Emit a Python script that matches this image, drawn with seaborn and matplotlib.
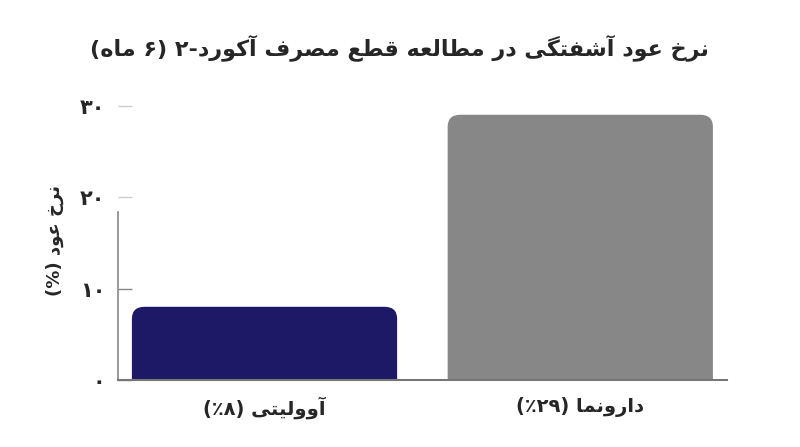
import numpy as np
import pandas as pd
import seaborn as sns
import matplotlib.pyplot as plt
from matplotlib.patches import FancyBboxPatch

# chart data
title = 'نرخ عود آشفتگی در مطالعه قطع مصرف آکورد-۲ (۶ ماه)'
y_label = 'نرخ عود (%)'
groups = ['آوولیتی (٪۸)', 'دارونما (٪۲۹)']
relapse = [8, 29]
bar_colors = ['#1e1966', '#878787']
y_ticks = [0, 10, 20, 30]
y_tick_labels = ['۰', '۱۰', '۲۰', '۳۰']

# arabic/persian presentation forms: isolated, final, initial, medial
forms = {
    'ا': '\ufe8d\ufe8e', 'آ': '\ufe81\ufe82', 'د': '\ufea9\ufeaa',
    'ر': '\ufead\ufeae', 'و': '\ufeed\ufeee',
    'ن': '\ufee5\ufee6\ufee7\ufee8', 'خ': '\ufea5\ufea6\ufea7\ufea8',
    'ع': '\ufec9\ufeca\ufecb\ufecc', 'ش': '\ufeb5\ufeb6\ufeb7\ufeb8',
    'ف': '\ufed1\ufed2\ufed3\ufed4', 'ت': '\ufe95\ufe96\ufe97\ufe98',
    'گ': '\ufb92\ufb93\ufb94\ufb95', 'ی': '\ufbfc\ufbfd\ufbfe\ufbff',
    'م': '\ufee1\ufee2\ufee3\ufee4', 'ط': '\ufec1\ufec2\ufec3\ufec4',
    'ل': '\ufedd\ufede\ufedf\ufee0', 'ه': '\ufee9\ufeea\ufeeb\ufeec',
    'ق': '\ufed5\ufed6\ufed7\ufed8', 'ص': '\ufeb9\ufeba\ufebb\ufebc',
    'ک': '\ufb8e\ufb8f\ufb90\ufb91',
}
right_only = set('اآدذرزژو')
num_chars = set('۰۱۲۳۴۵۶۷۸۹٪')


def shape(s):
    out = []
    for i, c in enumerate(s):
        if c not in forms:
            out.append(c)
            continue
        prev = s[i - 1] if i > 0 else ''
        nxt = s[i + 1] if i + 1 < len(s) else ''
        jp = prev in forms and prev not in right_only
        jn = nxt in forms and c not in right_only
        f = forms[c]
        if jp and jn:
            out.append(f[3])
        elif jp:
            out.append(f[1])
        elif jn:
            out.append(f[2])
        else:
            out.append(f[0])
    return out


def rtl(s):
    # matplotlib has no bidi, so lay the text out visually by hand
    chars = shape(s)[::-1]
    out, run = [], []
    for c in chars:
        if c in num_chars:
            run.append(c)
        else:
            out.extend(run[::-1])
            run = []
            out.append({'(': ')', ')': '('}.get(c, c))
    out.extend(run[::-1])
    return ''.join(out)


sns.set_style('white')
plt.rcParams['font.family'] = ['DejaVu Sans']

df = pd.DataFrame({'group': [rtl(g) for g in groups], 'relapse': relapse})

fig = plt.figure(figsize=(8, 4.47), dpi=100)
ax = fig.add_axes([0.1475, 0.15, 0.761, 0.626])
sns.barplot(data=df, x='group', y='relapse', hue='group', palette=bar_colors,
            legend=False, width=0.84, saturation=1, ax=ax)

ax.set_xlim(-0.464, 1.464)
ax.set_ylim(0, 30.6)

# rounded tops
for p in list(ax.patches):
    x, w, h = p.get_x(), p.get_width(), p.get_height()
    fc = p.get_facecolor()
    p.remove()
    r = 0.04
    asp = 33.0
    ax.add_patch(FancyBboxPatch((x, -r * asp), w, h + r * asp,
                                boxstyle=f'round,pad=0,rounding_size={r}',
                                mutation_aspect=asp, fc=fc, ec='none',
                                clip_on=True, zorder=2))

ax.set_yticks(y_ticks)
ax.set_yticklabels(y_tick_labels, fontsize=15, fontweight='bold')
ax.tick_params(axis='y', left=True, direction='in', length=10, width=1,
               color='#888888', pad=9)
for t in ax.yaxis.get_major_ticks()[2:]:
    t.tick1line.set_markeredgecolor('#cccccc')
ax.tick_params(axis='x', length=0, pad=12)
for lbl in ax.get_xticklabels():
    lbl.set_fontsize(14)
    lbl.set_fontweight('bold')
ax.set_xlabel('')
ax.set_ylabel('')

for s in ['top', 'right']:
    ax.spines[s].set_visible(False)
ax.spines['left'].set_color('#888888')
ax.spines['bottom'].set_color('#777777')
ax.spines['left'].set_linewidth(1.2)
ax.spines['bottom'].set_linewidth(1.5)
ax.spines['left'].set_bounds(0, 18.4)

fig.text(0.499, 0.893, rtl(title), ha='center', va='center', fontsize=16, fontweight='bold')
fig.text(0.069, 0.463, rtl(y_label), ha='center', va='center', rotation=90,
         fontsize=13, fontweight='bold')

fig.savefig('out.png', dpi=100)
